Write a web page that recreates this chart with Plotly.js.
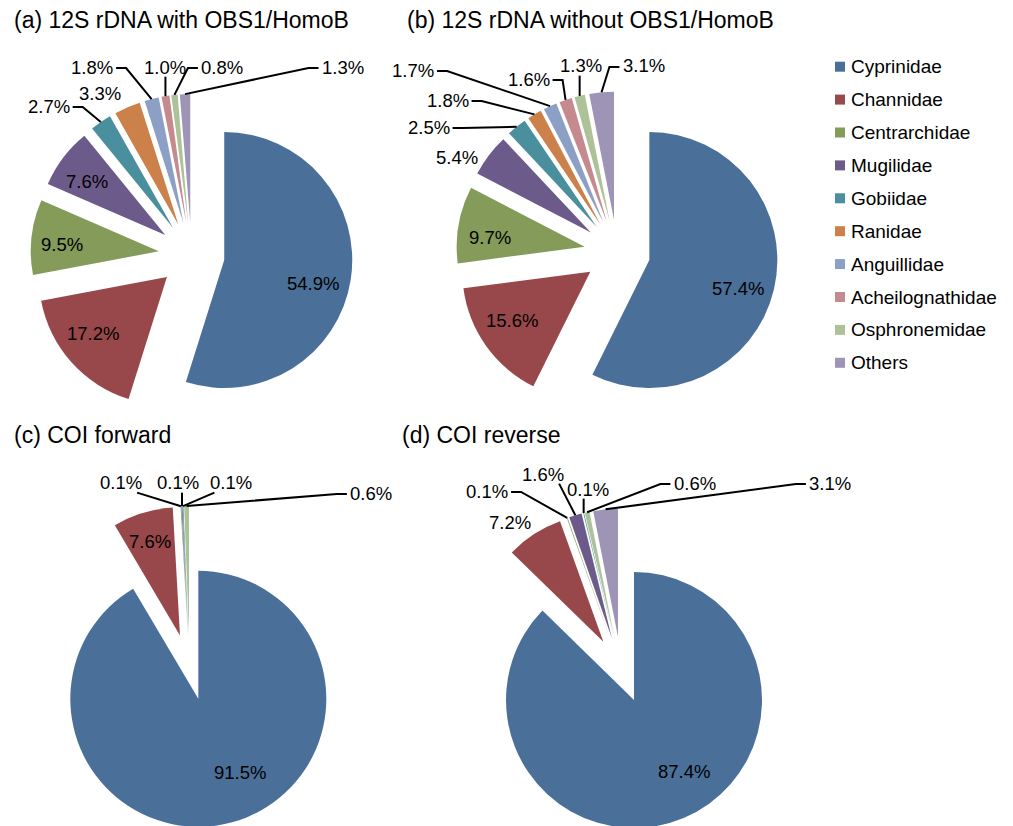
<!DOCTYPE html>
<html>
<head>
<meta charset="utf-8">
<script src="https://cdn.plot.ly/plotly-3.0.1.min.js"></script>
<style>
  html, body { margin: 0; padding: 0; overflow: hidden; background: #fff; }
</style>
</head>
<body>
<div id="chart"></div>
<script>
// Families shown in every panel, in slice order (clockwise from 12 o'clock)
const families = ['Cyprinidae', 'Channidae', 'Centrarchidae', 'Mugilidae', 'Gobiidae',
                  'Ranidae', 'Anguillidae', 'Acheilognathidae', 'Osphronemidae', 'Others'];
const familyColors = ['#4A7099', '#98484A', '#849B5A', '#6C5A8A', '#4A8F9E',
                      '#CC804A', '#8BA0C4', '#C68A8E', '#ADC299', '#9D94B6'];

const panelTitles = ['(a) 12S rDNA with OBS1/HomoB', '(b) 12S rDNA without OBS1/HomoB',
                     '(c) COI forward', '(d) COI reverse'];

// Share (%) per family; null = family not detected
const share12SWith    = [54.9, 17.2, 9.5, 7.6, 2.7, 3.3, 1.8, 1.0, 0.8, 1.3];
const share12SWithout = [57.4, 15.6, 9.7, 5.4, 2.5, 1.8, 1.7, 1.6, 1.3, 3.1];
const shareCOIForward = [91.5, 7.6, 0.1, 0.1, 0.1, null, null, null, 0.6, null];
const shareCOIReverse = [87.4, 7.2, 0.1, 1.6, 0.1, null, null, null, 0.6, 3.1];

// ---- page geometry (pixels) ----
const W = 1013, H = 840;
const RADIUS = 128, PULL = 0.258;
const FONT = '"Liberation Sans", Arial, Helvetica, sans-serif';
const LABEL_SIZE = 18.5, TITLE_SIZE = 23, LEGEND_SIZE = 19;

// Pie centres, title anchors and label spots (offsets from the pie centre;
// an optional 'bottom' flag hooks the leader line under the label)
const panelLayout = [
  { cx: 191.6, cy: 255, title: [12, 20],
    spots: [[121.1, 28.3], [-98.6, 78.3], [-129.9, -11], [-104.6, -73.3], [-143, -149],
            [-92, -162], [-99.6, -188], [-26.6, -188], [30.4, -188], [151, -188]] },
  { cx: 617.2, cy: 252.5, title: [405, 20],
    spots: [[120.6, 35.8], [-105, 68.2], [-127.5, -15.2], [-160.7, -95.5], [-188.7, -125.5],
            [-169.7, -152.5], [-204.2, -182.5], [-88.7, -173.5], [-36.2, -186.5], [26.3, -186.5]] },
  { cx: 189.6, cy: 667, title: [12, 435],
    spots: [[50.7, 105.7], [-39.6, -125.3], [-68.6, -184, 'bottom'], [-11.6, -184], [40.9, -184, 'bottom'],
            null, null, null, [181.4, -174], null] },
  { cx: 621.2, cy: 669.6, title: [400, 435],
    spots: [[62.8, 101.4], [-111.7, -147.6], [-134.2, -178.6], [-78.2, -195.6], [-33.2, -180.6],
            null, null, null, [73.3, -186.6], [208.8, -186.6]] }
];
const panelValues = [share12SWith, share12SWithout, shareCOIForward, shareCOIReverse];

const px2x = px => px / W;
const px2y = py => 1 - py / H;

// ---- pie traces ----
const side = 2 * RADIUS * (1 + PULL);
const traces = panelValues.map((vals, i) => {
  const p = panelLayout[i];
  const idx = families.map((_, k) => k).filter(k => vals[k] != null);
  return {
    type: 'pie',
    labels: idx.map(k => families[k]),
    values: idx.map(k => vals[k]),
    marker: { colors: idx.map(k => familyColors[k]), line: { width: 0 } },
    pull: PULL,
    sort: false,
    direction: 'clockwise',
    rotation: 0,
    textinfo: 'none',
    hoverinfo: 'label+value',
    showlegend: false,
    domain: {
      x: [px2x(p.cx - side / 2), px2x(p.cx + side / 2)],
      y: [px2y(p.cy + side / 2), px2y(p.cy - side / 2)]
    }
  };
});

// ---- titles and legend ----
const annotations = [];
const shapes = [];
panelTitles.forEach((t, i) => {
  const p = panelLayout[i];
  annotations.push({
    xref: 'paper', yref: 'paper', x: px2x(p.title[0]), y: px2y(p.title[1]),
    xanchor: 'left', yanchor: 'middle', showarrow: false, text: t,
    font: { family: FONT, size: TITLE_SIZE, color: '#000' }
  });
});

const LEGEND_X = 835, LEGEND_Y0 = 66.7, LEGEND_STEP = 32.9, SWATCH = 10;
families.forEach((name, k) => {
  const y = LEGEND_Y0 + k * LEGEND_STEP;
  shapes.push({
    type: 'rect', xref: 'paper', yref: 'paper',
    x0: px2x(LEGEND_X), x1: px2x(LEGEND_X + SWATCH),
    y0: px2y(y + SWATCH / 2), y1: px2y(y - SWATCH / 2),
    fillcolor: familyColors[k], line: { width: 0 }
  });
  annotations.push({
    xref: 'paper', yref: 'paper', x: px2x(LEGEND_X + SWATCH + 4), y: px2y(y),
    xanchor: 'left', yanchor: 'middle', showarrow: false, text: name,
    font: { family: FONT, size: LEGEND_SIZE, color: '#000' }
  });
});

const layout = {
  width: W, height: H,
  margin: { l: 0, r: 0, t: 0, b: 0 },
  paper_bgcolor: '#fff', plot_bgcolor: '#fff',
  annotations: annotations, shapes: shapes
};

// ---- value labels with leader lines ----
const measureCtx = document.createElement('canvas').getContext('2d');
function textWidth(s, size) {
  measureCtx.font = size + 'px ' + FONT;
  const w = measureCtx.measureText(s).width;
  return w > 0 ? w : 2.28 * size;
}

function leaderPoints(tip, L, w, size, hookBelow) {
  const hh = 0.36 * size;
  const left = L.x - w / 2, right = L.x + w / 2;
  const dx = Math.max(left - tip.x, 0, tip.x - right);
  const dy = Math.max(L.y - hh - tip.y, 0, tip.y - (L.y + hh));
  if (Math.hypot(dx, dy) < 14) return null;           // label already touches its slice
  if (hookBelow || (dx < 14 && tip.y > L.y)) {         // line leaves from under the label
    const ax = Math.min(Math.max(tip.x, left + 5), right - 5);
    return [[ax, L.y + hh + 3], [tip.x, tip.y]];
  }
  const dir = tip.x > right ? 1 : -1;
  const ax = dir > 0 ? right + 3 : left - 3;
  const ay = L.y + 1;
  return [[ax, ay], [ax + dir * 10, ay], [tip.x, tip.y]];
}

const gd = document.getElementById('chart');
Plotly.newPlot(gd, traces, layout, { displayModeBar: false }).then(() => {
  const extraAnn = [];
  const extraShapes = [];
  panelValues.forEach((vals, i) => {
    const p = panelLayout[i];
    const c0 = (gd.calcdata && gd.calcdata[i] && gd.calcdata[i][0]) || {};
    const cx = isFinite(c0.cx) ? c0.cx : p.cx;
    const cy = isFinite(c0.cy) ? c0.cy : p.cy;
    const r = isFinite(c0.r) ? c0.r : RADIUS;
    const total = vals.reduce((a, v) => a + (v == null ? 0 : v), 0);
    let cum = 0;
    vals.forEach((v, k) => {
      if (v == null) return;
      const mid = 2 * Math.PI * (cum + v / 2) / total;
      cum += v;
      const ux = Math.sin(mid), uy = -Math.cos(mid);
      const apex = { x: cx + PULL * r * ux, y: cy + PULL * r * uy };
      const tip = { x: apex.x + r * ux, y: apex.y + r * uy };
      const spot = p.spots[k];
      if (!spot) return;
      const L = { x: cx + spot[0] * r / RADIUS, y: cy + spot[1] * r / RADIUS };
      const text = v.toFixed(1) + '%';
      extraAnn.push({
        xref: 'paper', yref: 'paper', x: px2x(L.x), y: px2y(L.y),
        xanchor: 'center', yanchor: 'middle', showarrow: false, text: text,
        font: { family: FONT, size: LABEL_SIZE, color: '#000' }
      });
      const insideSlice = Math.hypot(L.x - apex.x, L.y - apex.y) < r;
      if (insideSlice) return;
      const pts = leaderPoints(tip, L, textWidth(text, LABEL_SIZE), LABEL_SIZE, spot[2] === 'bottom');
      if (!pts) return;
      const path = pts.map((q, j) => (j ? 'L' : 'M') + px2x(q[0]).toFixed(5) + ',' + px2y(q[1]).toFixed(5)).join(' ');
      extraShapes.push({
        type: 'path', xref: 'paper', yref: 'paper', path: path,
        line: { color: '#000', width: 2 }
      });
    });
  });
  return Plotly.relayout(gd, {
    annotations: annotations.concat(extraAnn),
    shapes: shapes.concat(extraShapes)
  });
});
</script>
</body>
</html>
